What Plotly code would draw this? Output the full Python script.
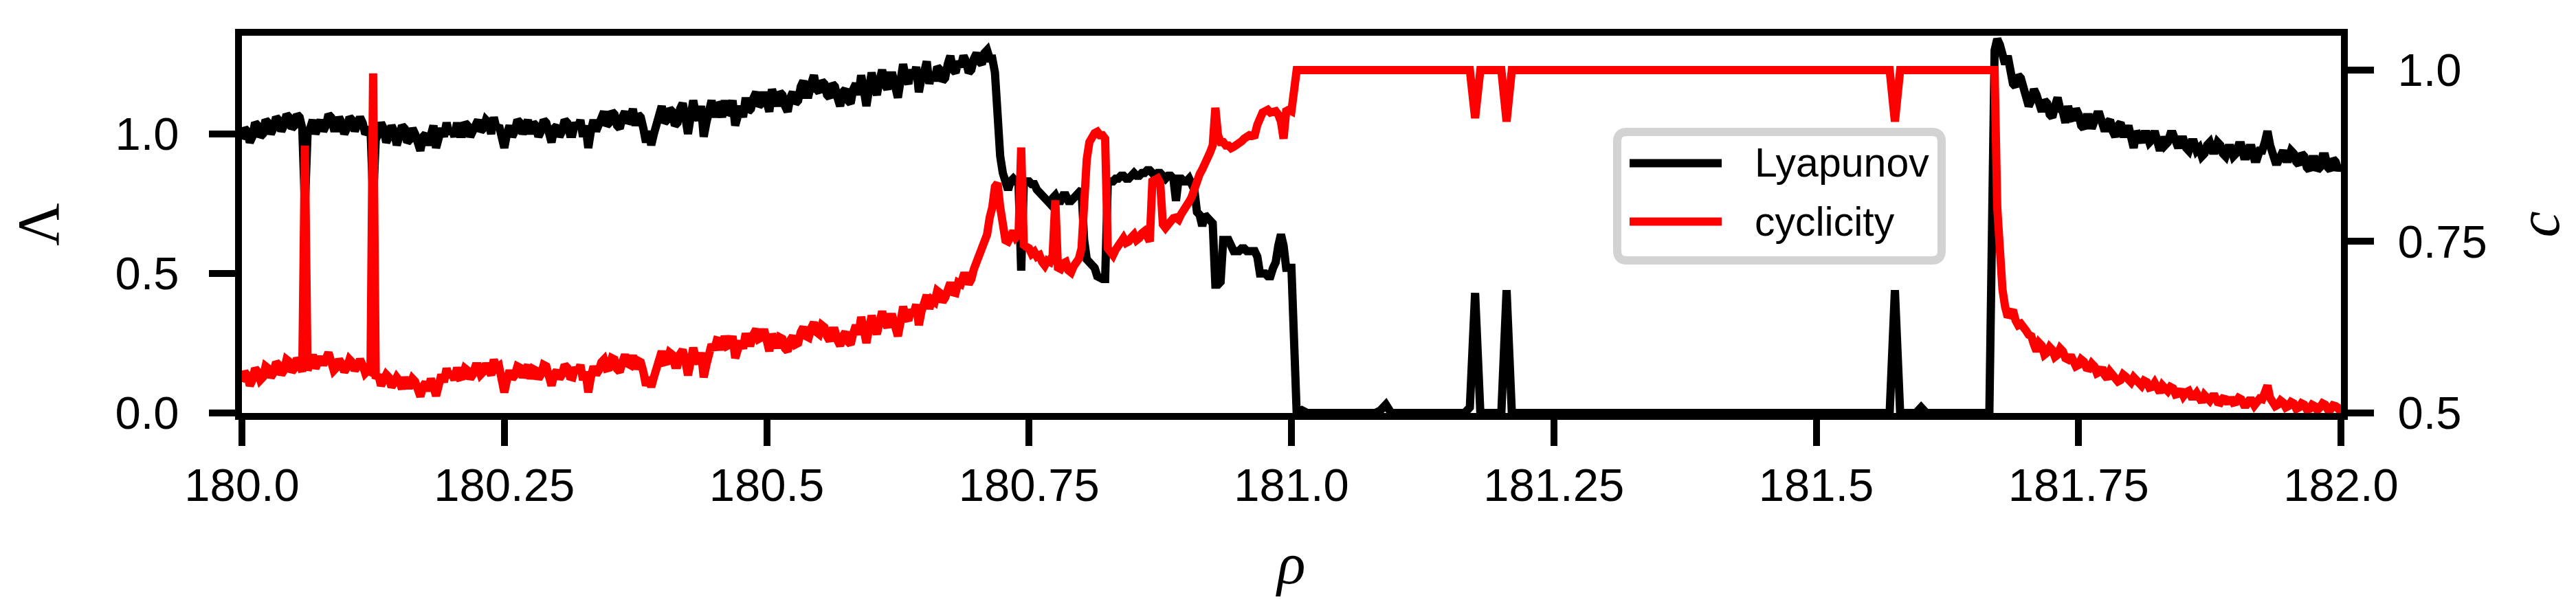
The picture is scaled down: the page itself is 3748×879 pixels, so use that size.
import numpy as np
import plotly.graph_objects as go

# control parameter: fine grid where the curves are noisy, coarser where flat
rho_a = np.round(np.linspace(180.0, 181.0, 401), 4).tolist()      # step 0.0025
rho_b = np.round(np.linspace(181.005, 181.665, 133), 4).tolist()  # step 0.005
rho_c = np.round(np.linspace(181.67, 182.0, 133), 4).tolist()     # step 0.0025
rho = rho_a + rho_b + rho_c

# ---------------- Lyapunov exponent (left axis) ----------------
lyap_a = [  # 180.000 .. 181.000
    0.98, 1.02, 1.01, 0.97, 0.99, 1.04, 1.03, 0.99, 1.00, 1.05,   # 180.000
    1.04, 1.00, 1.02, 1.06, 1.05, 1.01, 1.03, 1.07, 1.06, 1.02,   # 180.025
    1.03, 1.07, 1.06, 1.02, 0.74, 1.00, 1.02, 1.05, 1.00, 1.04,   # 180.050
    1.05, 1.01, 1.03, 1.07, 1.06, 1.02, 1.02, 1.06, 1.04, 1.00,   # 180.075
    1.02, 1.06, 1.05, 1.01, 1.03, 1.06, 1.04, 1.00, 1.01, 1.02,   # 180.100
    0.76, 0.98, 1.00, 1.04, 1.02, 0.97, 0.99, 1.03, 1.01, 0.96,   # 180.125
    0.99, 1.03, 1.02, 0.97, 0.98, 1.02, 1.00, 0.97, 0.94, 0.99,   # 180.150
    1.00, 0.96, 1.01, 1.03, 0.95, 1.00, 1.02, 0.99, 1.04, 1.00,   # 180.175
    1.02, 0.99, 1.04, 1.00, 1.00, 1.04, 1.03, 0.99, 1.01, 1.04,   # 180.200
    1.05, 1.01, 1.02, 1.05, 1.04, 1.00, 1.06, 1.02, 1.03, 0.99,   # 180.225
    0.95, 1.00, 1.03, 0.99, 1.01, 1.05, 1.04, 1.00, 1.02, 1.05,   # 180.250
    1.00, 1.04, 1.03, 0.99, 1.01, 1.05, 1.04, 1.00, 0.97, 1.02,   # 180.275
    1.03, 0.99, 1.01, 1.05, 1.04, 1.00, 1.00, 1.04, 1.02, 1.05,   # 180.300
    0.99, 1.03, 0.95, 1.01, 1.05, 1.01, 1.03, 1.06, 1.08, 1.03,   # 180.325
    1.04, 1.08, 1.07, 1.03, 1.02, 1.06, 1.08, 1.04, 1.05, 1.09,   # 180.350
    1.03, 1.07, 1.06, 1.02, 0.97, 1.01, 0.96, 1.00, 1.03, 1.07,   # 180.375
    1.10, 1.04, 1.05, 1.09, 1.08, 1.03, 1.04, 1.09, 1.11, 1.06,   # 180.400
    1.00, 1.06, 1.12, 1.07, 1.05, 1.10, 0.99, 1.04, 1.08, 1.12,   # 180.425
    1.06, 1.11, 1.10, 1.06, 1.12, 1.07, 1.08, 1.12, 1.03, 1.07,   # 180.450
    1.10, 1.06, 1.13, 1.08, 1.09, 1.13, 1.15, 1.10, 1.11, 1.15,   # 180.475
    1.12, 1.08, 1.16, 1.12, 1.10, 1.15, 1.14, 1.10, 1.08, 1.13,   # 180.500
    1.15, 1.11, 1.12, 1.17, 1.19, 1.14, 1.14, 1.18, 1.21, 1.16,   # 180.525
    1.15, 1.19, 1.18, 1.14, 1.13, 1.18, 1.17, 1.13, 1.10, 1.15,   # 180.550
    1.16, 1.12, 1.11, 1.16, 1.18, 1.14, 1.21, 1.16, 1.10, 1.16,   # 180.575
    1.22, 1.17, 1.14, 1.19, 1.23, 1.18, 1.16, 1.21, 1.21, 1.17,   # 180.600
    1.13, 1.19, 1.25, 1.20, 1.18, 1.23, 1.20, 1.24, 1.15, 1.20,   # 180.625
    1.22, 1.26, 1.18, 1.22, 1.19, 1.24, 1.23, 1.19, 1.20, 1.25,   # 180.650
    1.28, 1.23, 1.22, 1.26, 1.24, 1.28, 1.26, 1.22, 1.23, 1.27,   # 180.675
    1.29, 1.26, 1.25, 1.29, 1.30, 1.27, 1.27, 1.22, 1.05, 0.92,   # 180.700
    0.86, 0.82, 0.80, 0.83, 0.84, 0.83, 0.82, 0.51, 0.82, 0.83,   # 180.725
    0.83, 0.82, 0.82, 0.80, 0.79, 0.78, 0.77, 0.76, 0.75, 0.77,   # 180.750
    0.78, 0.76, 0.76, 0.78, 0.78, 0.76, 0.76, 0.77, 0.78, 0.79,   # 180.775
    0.80, 0.62, 0.55, 0.54, 0.53, 0.52, 0.49, 0.48, 0.48, 0.48,   # 180.800
    0.82, 0.83, 0.83, 0.84, 0.84, 0.85, 0.85, 0.84, 0.84, 0.85,   # 180.825
    0.86, 0.85, 0.85, 0.86, 0.86, 0.87, 0.87, 0.86, 0.85, 0.86,   # 180.850
    0.86, 0.85, 0.84, 0.85, 0.85, 0.84, 0.76, 0.84, 0.84, 0.83,   # 180.875
    0.83, 0.84, 0.82, 0.80, 0.72, 0.71, 0.67, 0.71, 0.70, 0.69,   # 180.900
    0.68, 0.46, 0.46, 0.47, 0.62, 0.62, 0.62, 0.60, 0.58, 0.58,   # 180.925
    0.58, 0.59, 0.59, 0.58, 0.58, 0.58, 0.58, 0.56, 0.50, 0.50,   # 180.950
    0.50, 0.49, 0.49, 0.52, 0.54, 0.60, 0.64, 0.60, 0.52, 0.52,   # 180.975
    0.52,                                                         # 181.000
]
lyap_b = [  # 181.005 .. 181.665
    0.00, 0.01, 0.00, 0.00, 0.00, 0.00, 0.00, 0.00, 0.00, 0.00,   # 181.005
    0.00, 0.00, 0.00, 0.00, 0.00, 0.00, 0.01, 0.03, 0.00, 0.00,   # 181.055
    0.00, 0.00, 0.00, 0.00, 0.00, 0.00, 0.00, 0.00, 0.00, 0.00,   # 181.105
    0.00, 0.00, 0.00, 0.02, 0.43, 0.00, 0.00, 0.00, 0.00, 0.00,   # 181.155
    0.44, 0.00, 0.00, 0.00, 0.00, 0.00, 0.00, 0.00, 0.00, 0.00,   # 181.205
    0.00, 0.00, 0.00, 0.00, 0.00, 0.00, 0.00, 0.00, 0.00, 0.00,   # 181.255
    0.00, 0.00, 0.00, 0.00, 0.00, 0.00, 0.00, 0.00, 0.00, 0.00,   # 181.305
    0.00, 0.00, 0.00, 0.00, 0.00, 0.00, 0.00, 0.00, 0.00, 0.00,   # 181.355
    0.00, 0.00, 0.00, 0.00, 0.00, 0.00, 0.00, 0.00, 0.00, 0.00,   # 181.405
    0.00, 0.00, 0.00, 0.00, 0.00, 0.00, 0.00, 0.00, 0.00, 0.00,   # 181.455
    0.00, 0.00, 0.00, 0.00, 0.00, 0.00, 0.00, 0.00, 0.00, 0.00,   # 181.505
    0.00, 0.00, 0.00, 0.00, 0.44, 0.00, 0.00, 0.00, 0.00, 0.02,   # 181.555
    0.00, 0.00, 0.00, 0.00, 0.00, 0.00, 0.00, 0.00, 0.00, 0.00,   # 181.605
    0.00, 0.00, 0.00,                                             # 181.655
]
lyap_c = [  # 181.670 .. 182.000
    1.30, 1.34, 1.32, 1.27, 1.25, 1.28, 1.22, 1.18, 1.17, 1.21,   # 181.670
    1.20, 1.16, 1.15, 1.10, 1.12, 1.16, 1.14, 1.09, 1.08, 1.12,   # 181.695
    1.11, 1.07, 1.06, 1.10, 1.13, 1.09, 1.08, 1.04, 1.10, 1.06,   # 181.720
    1.05, 1.09, 1.07, 1.03, 1.02, 1.06, 1.06, 1.02, 1.04, 1.07,   # 181.745
    1.07, 1.03, 1.01, 1.04, 1.05, 1.01, 0.99, 1.03, 1.04, 1.00,   # 181.770
    1.00, 1.03, 0.98, 0.95, 1.01, 0.98, 0.97, 1.00, 1.00, 0.97,   # 181.795
    0.98, 1.01, 0.96, 0.94, 0.99, 0.96, 0.97, 1.00, 1.00, 0.96,   # 181.820
    0.95, 0.98, 0.98, 0.95, 0.94, 0.97, 0.97, 0.94, 0.95, 0.92,   # 181.845
    0.93, 0.96, 0.97, 0.94, 0.94, 0.97, 0.96, 0.93, 0.92, 0.95,   # 181.870
    0.95, 0.92, 0.93, 0.96, 0.96, 0.92, 0.92, 0.95, 0.95, 0.91,   # 181.895
    0.91, 0.94, 0.94, 0.97, 1.01, 0.96, 0.93, 0.90, 0.90, 0.93,   # 181.920
    0.94, 0.91, 0.91, 0.94, 0.93, 0.90, 0.89, 0.93, 0.92, 0.88,   # 181.945
    0.87, 0.91, 0.91, 0.87, 0.88, 0.92, 0.92, 0.88, 0.87, 0.91,   # 181.970
    0.90, 0.87, 0.89,                                             # 181.995
]
lyapunov = lyap_a + lyap_b + lyap_c

# ---------------- cyclicity (right axis) ----------------
cyc_a = [  # 180.000 .. 181.000
    0.545, 0.560, 0.555, 0.540, 0.548, 0.565, 0.560, 0.548, 0.552, 0.568,   # 180.000
    0.565, 0.552, 0.558, 0.574, 0.570, 0.556, 0.562, 0.578, 0.575, 0.560,   # 180.025
    0.565, 0.580, 0.572, 0.560, 0.890, 0.562, 0.575, 0.585, 0.565, 0.578,   # 180.050
    0.582, 0.570, 0.578, 0.588, 0.575, 0.562, 0.566, 0.578, 0.572, 0.560,   # 180.075
    0.566, 0.578, 0.574, 0.562, 0.568, 0.578, 0.570, 0.558, 0.562, 0.560,   # 180.100
    0.995, 0.550, 0.556, 0.540, 0.548, 0.556, 0.552, 0.538, 0.544, 0.552,   # 180.125
    0.547, 0.535, 0.552, 0.540, 0.540, 0.550, 0.546, 0.532, 0.524, 0.538,   # 180.150
    0.545, 0.532, 0.550, 0.538, 0.525, 0.540, 0.556, 0.545, 0.565, 0.552,   # 180.175
    0.560, 0.548, 0.566, 0.552, 0.553, 0.565, 0.562, 0.550, 0.556, 0.568,   # 180.200
    0.568, 0.556, 0.560, 0.572, 0.566, 0.555, 0.578, 0.565, 0.568, 0.552,   # 180.225
    0.530, 0.548, 0.562, 0.550, 0.555, 0.568, 0.566, 0.552, 0.560, 0.570,   # 180.250
    0.550, 0.564, 0.562, 0.550, 0.556, 0.570, 0.568, 0.555, 0.540, 0.556,   # 180.275
    0.562, 0.550, 0.556, 0.570, 0.566, 0.553, 0.552, 0.566, 0.560, 0.570,   # 180.300
    0.548, 0.560, 0.530, 0.552, 0.568, 0.556, 0.562, 0.574, 0.578, 0.565,   # 180.325
    0.566, 0.580, 0.578, 0.564, 0.560, 0.574, 0.585, 0.572, 0.570, 0.584,   # 180.350
    0.564, 0.576, 0.574, 0.560, 0.540, 0.552, 0.538, 0.552, 0.565, 0.580,   # 180.375
    0.590, 0.574, 0.575, 0.588, 0.585, 0.570, 0.570, 0.586, 0.592, 0.576,   # 180.400
    0.555, 0.574, 0.595, 0.580, 0.572, 0.588, 0.552, 0.570, 0.588, 0.600,   # 180.425
    0.592, 0.606, 0.605, 0.592, 0.612, 0.598, 0.600, 0.612, 0.580, 0.594,   # 180.450
    0.605, 0.594, 0.616, 0.602, 0.602, 0.615, 0.622, 0.608, 0.610, 0.622,   # 180.475
    0.600, 0.590, 0.615, 0.602, 0.595, 0.610, 0.608, 0.594, 0.590, 0.606,   # 180.500
    0.612, 0.600, 0.602, 0.618, 0.625, 0.612, 0.610, 0.624, 0.632, 0.618,   # 180.525
    0.615, 0.628, 0.625, 0.612, 0.605, 0.620, 0.620, 0.606, 0.598, 0.612,   # 180.550
    0.618, 0.604, 0.600, 0.616, 0.628, 0.614, 0.640, 0.622, 0.602, 0.622,   # 180.575
    0.642, 0.626, 0.615, 0.632, 0.648, 0.632, 0.625, 0.640, 0.640, 0.626,   # 180.600
    0.612, 0.632, 0.655, 0.640, 0.635, 0.650, 0.645, 0.658, 0.628, 0.648,   # 180.625
    0.660, 0.672, 0.652, 0.665, 0.662, 0.678, 0.675, 0.662, 0.668, 0.684,   # 180.650
    0.690, 0.676, 0.675, 0.690, 0.688, 0.700, 0.700, 0.688, 0.695, 0.710,   # 180.675
    0.720, 0.728, 0.735, 0.748, 0.760, 0.785, 0.800, 0.830, 0.835, 0.800,   # 180.700
    0.770, 0.752, 0.750, 0.760, 0.765, 0.756, 0.760, 0.887, 0.745, 0.742,   # 180.725
    0.740, 0.732, 0.735, 0.728, 0.730, 0.720, 0.715, 0.722, 0.720, 0.730,   # 180.750
    0.810, 0.712, 0.710, 0.718, 0.720, 0.708, 0.705, 0.714, 0.720, 0.725,   # 180.775
    0.740, 0.820, 0.870, 0.895, 0.905, 0.908, 0.910, 0.905, 0.905, 0.900,   # 180.800
    0.740, 0.732, 0.730, 0.738, 0.745, 0.750, 0.755, 0.748, 0.750, 0.756,   # 180.825
    0.760, 0.752, 0.755, 0.762, 0.765, 0.758, 0.750, 0.838, 0.840, 0.842,   # 180.850
    0.835, 0.775, 0.770, 0.776, 0.780, 0.784, 0.785, 0.782, 0.790, 0.795,   # 180.875
    0.800, 0.808, 0.815, 0.828, 0.840, 0.848, 0.855, 0.862, 0.870, 0.880,   # 180.900
    0.890, 0.945, 0.905, 0.895, 0.895, 0.890, 0.890, 0.886, 0.888, 0.890,   # 180.925
    0.892, 0.896, 0.900, 0.903, 0.905, 0.904, 0.905, 0.920, 0.935, 0.938,   # 180.950
    0.940, 0.942, 0.938, 0.940, 0.940, 0.935, 0.925, 0.900, 0.940, 0.942,   # 180.975
    0.940,                                                                  # 181.000
]
cyc_b = [  # 181.005 .. 181.665
    1.000, 1.000, 1.000, 1.000, 1.000, 1.000, 1.000, 1.000, 1.000, 1.000,   # 181.005
    1.000, 1.000, 1.000, 1.000, 1.000, 1.000, 1.000, 1.000, 1.000, 1.000,   # 181.055
    1.000, 1.000, 1.000, 1.000, 1.000, 1.000, 1.000, 1.000, 1.000, 1.000,   # 181.105
    1.000, 1.000, 1.000, 1.000, 0.930, 1.000, 1.000, 1.000, 1.000, 1.000,   # 181.155
    0.925, 1.000, 1.000, 1.000, 1.000, 1.000, 1.000, 1.000, 1.000, 1.000,   # 181.205
    1.000, 1.000, 1.000, 1.000, 1.000, 1.000, 1.000, 1.000, 1.000, 1.000,   # 181.255
    1.000, 1.000, 1.000, 1.000, 1.000, 1.000, 1.000, 1.000, 1.000, 1.000,   # 181.305
    1.000, 1.000, 1.000, 1.000, 1.000, 1.000, 1.000, 1.000, 1.000, 1.000,   # 181.355
    1.000, 1.000, 1.000, 1.000, 1.000, 1.000, 1.000, 1.000, 1.000, 1.000,   # 181.405
    1.000, 1.000, 1.000, 1.000, 1.000, 1.000, 1.000, 1.000, 1.000, 1.000,   # 181.455
    1.000, 1.000, 1.000, 1.000, 1.000, 1.000, 1.000, 1.000, 1.000, 1.000,   # 181.505
    1.000, 1.000, 1.000, 1.000, 0.925, 1.000, 1.000, 1.000, 1.000, 1.000,   # 181.555
    1.000, 1.000, 1.000, 1.000, 1.000, 1.000, 1.000, 1.000, 1.000, 1.000,   # 181.605
    1.000, 1.000, 1.000,                                                    # 181.655
]
cyc_c = [  # 181.670 .. 182.000
    1.000, 0.800, 0.720, 0.680, 0.655, 0.640, 0.645, 0.650, 0.635, 0.628,   # 181.670
    0.630, 0.622, 0.620, 0.614, 0.612, 0.600, 0.590, 0.602, 0.598, 0.585,   # 181.695
    0.588, 0.596, 0.592, 0.582, 0.585, 0.594, 0.590, 0.580, 0.578, 0.584,   # 181.720
    0.575, 0.568, 0.570, 0.578, 0.575, 0.566, 0.565, 0.572, 0.568, 0.558,   # 181.745
    0.560, 0.566, 0.555, 0.550, 0.560, 0.556, 0.552, 0.546, 0.548, 0.556,   # 181.770
    0.553, 0.546, 0.545, 0.552, 0.548, 0.540, 0.540, 0.547, 0.545, 0.537,   # 181.795
    0.538, 0.544, 0.535, 0.530, 0.540, 0.535, 0.532, 0.538, 0.536, 0.527,   # 181.820
    0.528, 0.534, 0.525, 0.530, 0.532, 0.524, 0.524, 0.529, 0.520, 0.516,   # 181.845
    0.526, 0.520, 0.518, 0.524, 0.524, 0.516, 0.515, 0.521, 0.520, 0.514,   # 181.870
    0.522, 0.515, 0.516, 0.522, 0.520, 0.512, 0.512, 0.518, 0.518, 0.511,   # 181.895
    0.515, 0.521, 0.520, 0.528, 0.540, 0.522, 0.518, 0.510, 0.512, 0.518,   # 181.920
    0.515, 0.508, 0.510, 0.516, 0.514, 0.506, 0.508, 0.514, 0.512, 0.505,   # 181.945
    0.506, 0.512, 0.510, 0.504, 0.508, 0.514, 0.512, 0.505, 0.505, 0.511,   # 181.970
    0.510, 0.506, 0.512,                                                    # 181.995
]
cyclicity = cyc_a + cyc_b + cyc_c

x_tickvals = [180.0, 180.25, 180.5, 180.75, 181.0, 181.25, 181.5, 181.75, 182.0]
x_ticktext = ["180.0", "180.25", "180.5", "180.75", "181.0", "181.25", "181.5", "181.75", "182.0"]
y_tickvals = [0.0, 0.5, 1.0]
y_ticktext = ["0.0", "0.5", "1.0"]
y2_tickvals = [0.5, 0.75, 1.0]
y2_ticktext = ["0.5", "0.75", "1.0"]
series_names = ["Lyapunov", "cyclicity"]
series_colors = ["black", "red"]

# ---- page geometry (pixels) ----
W, H = 3748, 879
L, R, T, B = 344, 3398, 44, 593          # plot-area edges (spine centres)
PW, PH = R - L, B - T


def px(xp):   # pixel -> paper x
    return (xp - L) / PW


def py(yp):   # pixel -> paper y
    return (B - yp) / PH


TICKFONT = dict(family="Liberation Sans", size=67, color="black")
TITLEFONT = dict(family="Liberation Serif", size=86, color="black")
axis_common = dict(
    showline=True, linewidth=10, linecolor="black",
    ticks="outside", ticklen=38, tickwidth=10, tickcolor="black",
    showgrid=False, zeroline=False, tickfont=TICKFONT, automargin=False,
)

fig = go.Figure()
fig.add_trace(go.Scatter(x=rho, y=lyapunov, mode="lines", name=series_names[0],
                         line=dict(color=series_colors[0], width=12), yaxis="y",
                         showlegend=False))
fig.add_trace(go.Scatter(x=rho, y=cyclicity, mode="lines", name=series_names[1],
                         line=dict(color=series_colors[1], width=12), yaxis="y2",
                         showlegend=False))

# ---- legend box drawn as shapes (long, thick sample lines like the original) ----
lx0, lx1, ly0, ly1, rad = 2345, 2817, 184, 371, 14
legend_path = (
    f"M{px(lx0 + rad)},{py(ly0)} L{px(lx1 - rad)},{py(ly0)} "
    f"Q{px(lx1)},{py(ly0)} {px(lx1)},{py(ly0 + rad)} "
    f"L{px(lx1)},{py(ly1 - rad)} Q{px(lx1)},{py(ly1)} {px(lx1 - rad)},{py(ly1)} "
    f"L{px(lx0 + rad)},{py(ly1)} Q{px(lx0)},{py(ly1)} {px(lx0)},{py(ly1 - rad)} "
    f"L{px(lx0)},{py(ly0 + rad)} Q{px(lx0)},{py(ly0)} {px(lx0 + rad)},{py(ly0)} Z"
)
shapes = [dict(type="path", path=legend_path, xref="paper", yref="paper",
               line=dict(color="#d3d3d3", width=12), fillcolor="white", layer="above")]
annotations = []
for k, yrow in enumerate([229.5, 314.5]):
    shapes.append(dict(type="line", xref="paper", yref="paper",
                       x0=px(2363), x1=px(2497), y0=py(yrow), y1=py(yrow),
                       line=dict(color=series_colors[k], width=12), layer="above"))
    annotations.append(dict(text=series_names[k], xref="paper", yref="paper",
                            x=px(2543), y=py(yrow), xanchor="left", yanchor="middle",
                            showarrow=False,
                            font=dict(family="Liberation Sans", size=59, color="black")))

fig.update_layout(
    width=W, height=H,
    paper_bgcolor="white", plot_bgcolor="white",
    margin=dict(l=L, r=W - R, t=T, b=H - B, autoexpand=False),
    xaxis=dict(range=[180.0, 182.0], tickvals=x_tickvals, ticktext=x_ticktext,
               mirror=True, ticklabelstandoff=0,
               title=dict(text="<i>ρ</i>", font=TITLEFONT, standoff=50),
               **axis_common),
    yaxis=dict(range=[0.0, 1.352], tickvals=y_tickvals, ticktext=y_ticktext,
               ticklabelstandoff=30,
               title=dict(text="Λ", font=TITLEFONT, standoff=60),
               **axis_common),
    yaxis2=dict(range=[0.5, 1.05], tickvals=y2_tickvals, ticktext=y2_ticktext,
                overlaying="y", side="right", ticklabelstandoff=21,
                title=dict(text="<i>c</i>", font=TITLEFONT, standoff=49),
                **axis_common),
    showlegend=False,
    shapes=shapes,
    annotations=annotations,
)

fig.write_html("out.html")
